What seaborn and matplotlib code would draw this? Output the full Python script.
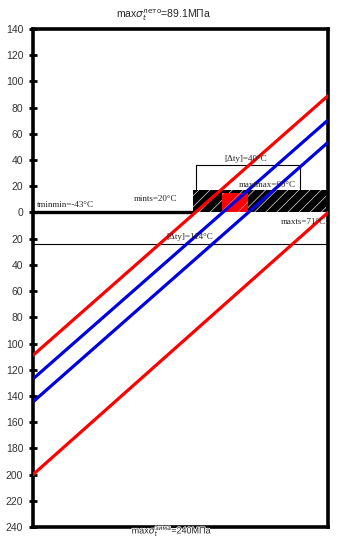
import numpy as np
import pandas as pd
import matplotlib
matplotlib.use("Agg")
import matplotlib.pyplot as plt
import matplotlib.patheffects as pe
import seaborn as sns
from matplotlib.patches import Rectangle

# ---- data ----
temps = [-43, 71]                      # x range, °C
red_top = [-109, 89.1]
blue_1 = [-127, 70.5]
blue_2 = [-144.5, 53.5]
red_bottom = [-200, 0]
series_names = ["red_top", "blue_1", "blue_2", "red_bottom"]
series_colors = ["#ff0000", "#0000e0", "#0000e0", "#ff0000"]
y_ticks = [140, 120, 100, 80, 60, 40, 20, 0, -20, -40, -60, -80, -100, -120,
           -140, -160, -180, -200, -220, -240]
tick_labels = [str(abs(v)) for v in y_ticks]

box_t = [19, 71]          # hatched box temperature range
box_h = 17
red_box_t = [30, 40]
red_box_h = 15
bracket_t = [20, 60]
bracket_y = 36
line_dty_y = -24

sns.set_theme(style="white")
plt.rcParams["font.family"] = ["Liberation Sans", "DejaVu Sans"]
plt.rcParams["mathtext.fontset"] = "dejavusans"
plt.rcParams["hatch.linewidth"] = 0.5

df = pd.DataFrame({
    "t": temps * 4,
    "sigma": red_top + blue_1 + blue_2 + red_bottom,
    "series": [n for n in series_names for _ in temps],
})

fig = plt.figure(figsize=(3.47, 5.39), dpi=100)
ax = fig.add_axes([33 / 347, 1 - 527 / 539, 295 / 347, 498 / 539])

# hatched box
ax.add_patch(Rectangle((box_t[0], 0), box_t[1] - box_t[0], box_h,
                       facecolor="black", edgecolor="none", zorder=2))
ax.add_patch(Rectangle((box_t[0], 0), box_t[1] - box_t[0], box_h,
                       facecolor="none", edgecolor="#dddddd", hatch="///",
                       lw=0, zorder=2.1))
ax.add_patch(Rectangle((red_box_t[0], 0), red_box_t[1] - red_box_t[0], red_box_h,
                       facecolor="#ff0000", edgecolor="none", zorder=2.2))
ax.add_patch(Rectangle((red_box_t[0], 0), red_box_t[1] - red_box_t[0], red_box_h,
                       facecolor="none", edgecolor="#ff9090", hatch="//",
                       lw=0, zorder=2.3))

# zero line and Δt lines
ax.plot([temps[0], box_t[0]], [0, 0], color="black", lw=2.4, zorder=3)
ax.plot(temps, [line_dty_y, line_dty_y], color="black", lw=0.8, zorder=3)
ax.plot([bracket_t[0], bracket_t[0], bracket_t[1], bracket_t[1]],
        [box_h, bracket_y, bracket_y, box_h], color="black", lw=0.8, zorder=3)

sns.lineplot(data=df, x="t", y="sigma", hue="series", hue_order=series_names,
             palette=dict(zip(series_names, series_colors)), lw=2.3,
             legend=False, ax=ax, zorder=4)

ax.set_xlim(temps)
ax.set_ylim(-240, 140)
ax.set_xticks([])
ax.set_yticks(y_ticks)
ax.set_yticklabels(tick_labels)
ax.set_xlabel("")
ax.set_ylabel("")
ax.tick_params(axis="y", direction="inout", length=6, width=2, color="black",
               labelsize=7.5, pad=4, left=True, labelcolor="#333333")
for s in ax.spines.values():
    s.set_visible(True)
    s.set_color("black")
    s.set_linewidth(2.6)

serif = ["Liberation Serif", "DejaVu Serif"]
fs = 6.5
ax.text(-41.5, 2.5, "tminmin=-43°C", fontsize=fs, family=serif, ha="left", va="bottom", zorder=5)
ax.text(12.8, 10, "mints=20°C", fontsize=fs, family=serif, ha="right", va="center", zorder=5)
ax.text(58.6, 21, "maxtmax=60°C", fontsize=fs, family=serif, ha="right", va="center", zorder=5)
ax.text(70.3, -7.5, "maxts=71°C", fontsize=fs, family=serif, ha="right", va="center", zorder=5)
ax.text(39, 40.5, "[Δty]=40°C", fontsize=fs, family=serif, ha="center", va="center", zorder=5)
ax.text(17.5, -19, "[Δty]=114°C", fontsize=fs, family=serif, ha="center", va="center", zorder=5)

fig.text(163 / 347, 1 - 15 / 539, r"max$\sigma_t^{\mathrm{лето}}$=89.1МПа",
         fontsize=7.5, ha="center", va="center")
fig.text(172 / 347, 1 - 538 / 539, r"max$\sigma_t^{\mathrm{зима}}$=240МПа",
         fontsize=6.5, ha="center", va="bottom", zorder=10,
         path_effects=[pe.withStroke(linewidth=1.2, foreground="white")])

fig.savefig("out.png", dpi=100)
